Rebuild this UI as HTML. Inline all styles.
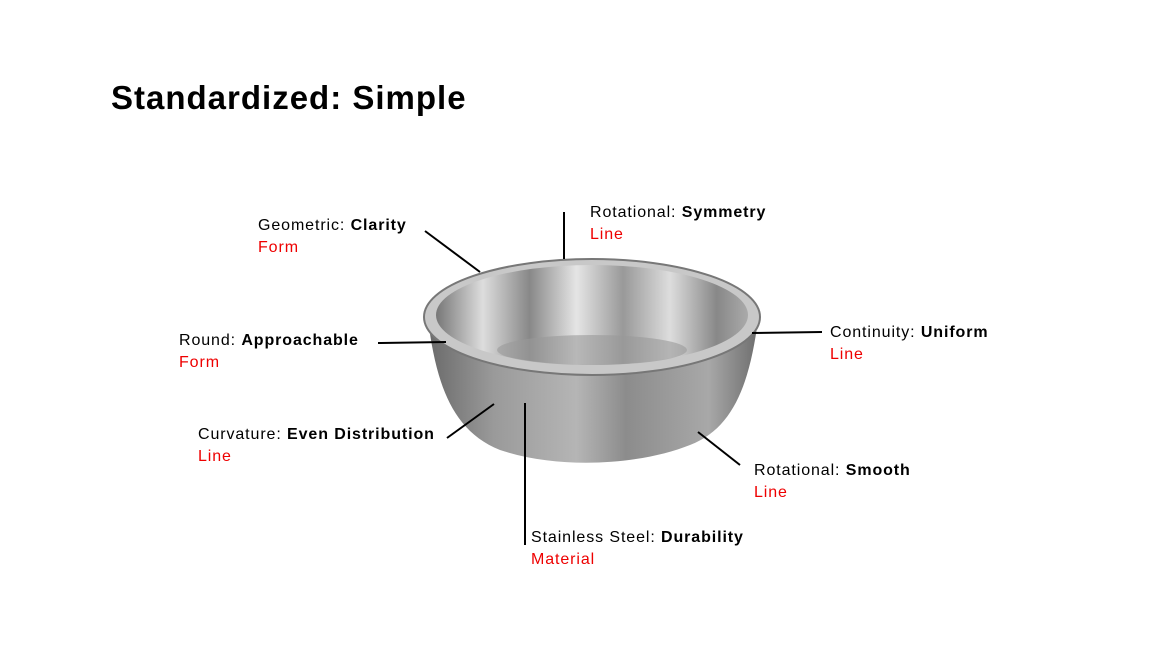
<!DOCTYPE html>
<html><head><meta charset="utf-8"><style>
html,body{margin:0;padding:0;background:#fff;}
body{width:1157px;height:669px;overflow:hidden;position:relative;font-family:"Liberation Sans",sans-serif;}
.t{position:absolute;left:111px;top:79px;font-size:33px;font-weight:bold;color:#000;letter-spacing:1px;}
.l{position:absolute;font-size:16px;line-height:22px;color:#000;white-space:nowrap;letter-spacing:0.9px;}
.l b{font-weight:bold;}
.l span{color:#e00;}
svg{position:absolute;left:0;top:0;}
</style></head><body>
<svg width="1157" height="669" viewBox="0 0 1157 669">
<defs>
<linearGradient id="body" x1="0" x2="1" y1="0" y2="0">
<stop offset="0" stop-color="#6a6a6a"/><stop offset="0.2" stop-color="#9a9a9a"/><stop offset="0.45" stop-color="#b5b5b5"/><stop offset="0.6" stop-color="#8c8c8c"/><stop offset="0.85" stop-color="#a8a8a8"/><stop offset="1" stop-color="#6e6e6e"/>
</linearGradient>
<linearGradient id="inner" x1="0" x2="1" y1="0" y2="0">
<stop offset="0" stop-color="#777"/><stop offset="0.15" stop-color="#ddd"/><stop offset="0.3" stop-color="#888"/><stop offset="0.45" stop-color="#e5e5e5"/><stop offset="0.6" stop-color="#999"/><stop offset="0.75" stop-color="#ddd"/><stop offset="0.9" stop-color="#888"/><stop offset="1" stop-color="#aaa"/>
</linearGradient>
</defs>
<path d="M428 320 C436 380 450 430 500 450 C560 470 640 465 690 445 C735 428 750 380 758 320 Z" fill="url(#body)"/>
<ellipse cx="592" cy="317" rx="168" ry="58" fill="#c8c8c8" stroke="#777" stroke-width="2"/>
<ellipse cx="592" cy="315" rx="156" ry="50" fill="url(#inner)"/>
<ellipse cx="592" cy="350" rx="95" ry="15" fill="#9a9a9a" opacity="0.6"/>
<g stroke="#000" stroke-width="2" fill="none">
<line x1="425" y1="231" x2="480" y2="272"/>
<line x1="564" y1="212" x2="564" y2="259"/>
<line x1="752" y1="333" x2="822" y2="332"/>
<line x1="378" y1="343" x2="446" y2="342"/>
<line x1="447" y1="438" x2="494" y2="404"/>
<line x1="525" y1="403" x2="525" y2="545"/>
<line x1="698" y1="432" x2="740" y2="465"/>
</g>
</svg>
<div class="t">Standardized: Simple</div>
<div class="l" style="left:258px;top:215px">Geometric: <b>Clarity</b><br><span>Form</span></div>
<div class="l" style="left:590px;top:202px">Rotational: <b>Symmetry</b><br><span>Line</span></div>
<div class="l" style="left:830px;top:322px">Continuity: <b>Uniform</b><br><span>Line</span></div>
<div class="l" style="left:179px;top:330px">Round: <b>Approachable</b><br><span>Form</span></div>
<div class="l" style="left:198px;top:424px">Curvature: <b>Even Distribution</b><br><span>Line</span></div>
<div class="l" style="left:754px;top:460px">Rotational: <b>Smooth</b><br><span>Line</span></div>
<div class="l" style="left:531px;top:527px">Stainless Steel: <b>Durability</b><br><span>Material</span></div>
</body></html>
